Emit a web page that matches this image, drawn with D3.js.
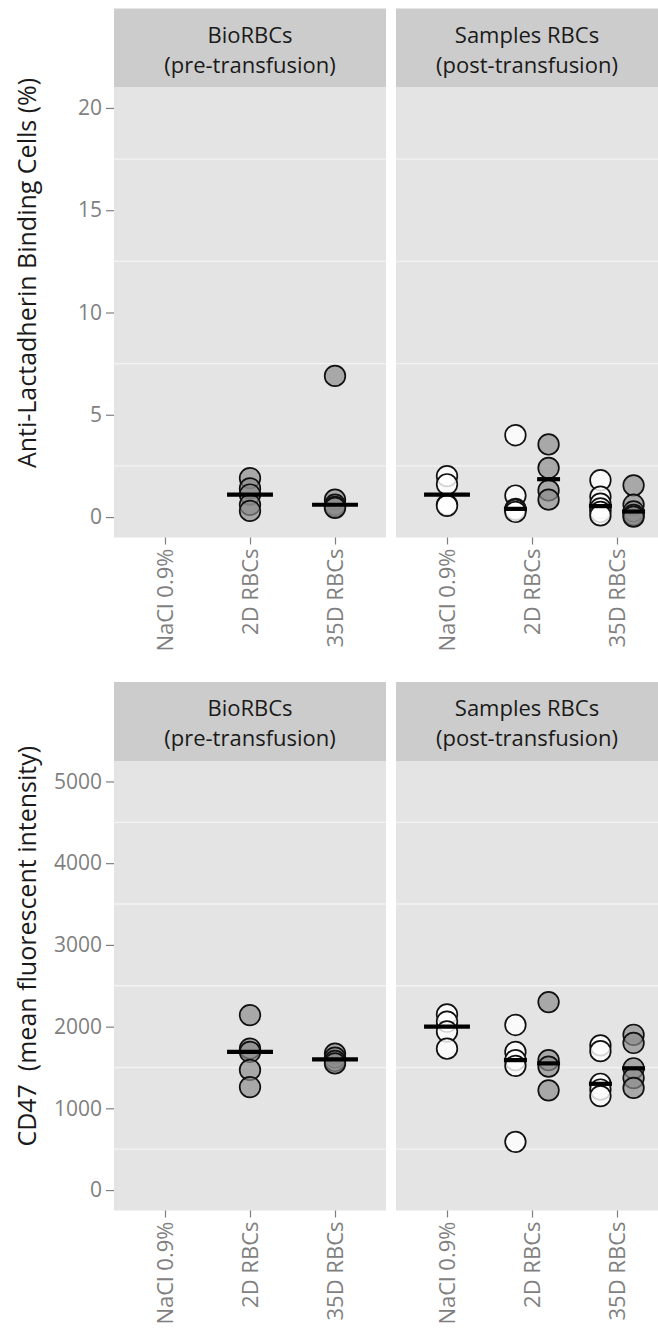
<!DOCTYPE html>
<html><head><meta charset="utf-8">
<script src="https://cdn.jsdelivr.net/npm/d3@7"></script>
<style>
body{margin:0;background:#fff;}
svg{display:block;font-family:"Open Sans",sans-serif;}
</style>
</head><body>
<svg id="chart" width="658" height="1334"></svg>
<script>
// ---------- data ----------
const categories = ["NaCl 0.9%", "2D RBCs", "35D RBCs"];
const facetTitles = [["BioRBCs", "(pre-transfusion)"], ["Samples RBCs", "(post-transfusion)"]];
const lactTicks = [0, 5, 10, 15, 20];
const cd47Ticks = [0, 1000, 2000, 3000, 4000, 5000];
const lactTitle = "Anti-Lactadherin Binding Cells (%)";
const cd47Title = "CD47  (mean fluorescent intensity)";

// Anti-Lactadherin binding cells (%)
const lactPre2D = [1.9, 1.4, 1.1, 0.6, 0.3];
const lactPre35D = [6.9, 0.85, 0.6, 0.5, 0.45];
const lactPostNaClWhite = [2.0, 1.6, 0.6, 0.55];
const lactPost2DWhite = [4.0, 1.05, 0.4, 0.35, 0.25];
const lactPost2DGrey = [3.55, 2.4, 1.3, 0.85];
const lactPost35DWhite = [1.8, 1.0, 0.65, 0.42, 0.25, 0.08];
const lactPost35DGrey = [1.55, 0.6, 0.27, 0.1, 0.02];

// CD47 MFI
const cd47Pre2D = [2140, 1730, 1690, 1470, 1260];
const cd47Pre35D = [1670, 1620, 1580, 1550];
const cd47PostNaClWhite = [2150, 2060, 1940, 1730];
const cd47Post2DWhite = [2020, 1690, 1590, 1520, 590];
const cd47Post2DGrey = [2300, 1590, 1510, 1220];
const cd47Post35DWhite = [1770, 1700, 1300, 1230, 1150];
const cd47Post35DGrey = [1900, 1800, 1490, 1370, 1250];

// series table: panel index, category, fill group, dodge slot
function seriesTable(pre2D, pre35D, postNaCl, post2DW, post2DG, post35DW, post35DG) {
  return [
    {panel: 0, cat: categories[1], grp: "grey", dodge: 0, values: pre2D},
    {panel: 0, cat: categories[2], grp: "grey", dodge: 0, values: pre35D},
    {panel: 1, cat: categories[0], grp: "white", dodge: 0, values: postNaCl},
    {panel: 1, cat: categories[1], grp: "white", dodge: -1, values: post2DW},
    {panel: 1, cat: categories[1], grp: "grey", dodge: 1, values: post2DG},
    {panel: 1, cat: categories[2], grp: "white", dodge: -1, values: post35DW},
    {panel: 1, cat: categories[2], grp: "grey", dodge: 1, values: post35DG}
  ];
}
const lactSeries = seriesTable(lactPre2D, lactPre35D, lactPostNaClWhite, lactPost2DWhite, lactPost2DGrey, lactPost35DWhite, lactPost35DGrey);
const cd47Series = seriesTable(cd47Pre2D, cd47Pre35D, cd47PostNaClWhite, cd47Post2DWhite, cd47Post2DGrey, cd47Post35DWhite, cd47Post35DGrey);

// ---------- layout ----------
const svg = d3.select("#chart");
const W = 658;
const panelX = [114, 396];
const panelW = 272;
const stripH = 79;
const fills = {white: "#ffffff", grey: "#8c8c8c"};

function drawBlock(cfg) {
  const g = svg.append("g");
  const y = d3.scaleLinear().domain(cfg.domain).range([cfg.panelBottom, cfg.panelTop]);
  const panelH = cfg.panelBottom - cfg.panelTop;

  panelX.forEach((px, i) => {
    const visW = Math.min(panelW, W - px);
    const x = d3.scalePoint().domain(categories).range([px, px + panelW]).padding(0.6);
    const step = x.step();
    // strip
    g.append("rect").attr("x", px).attr("y", cfg.stripTop).attr("width", panelW).attr("height", stripH)
      .attr("fill", "#cccccc");
    const st = g.append("text").attr("text-anchor", "middle").attr("font-size", 22).attr("fill", "#1a1a1a");
    facetTitles[i].forEach((ln, j) => {
      st.append("tspan").attr("x", px + visW / 2).attr("y", cfg.stripTop + 34 + j * 30).text(ln);
    });
    // panel background
    g.append("rect").attr("x", px).attr("y", cfg.panelTop).attr("width", panelW).attr("height", panelH)
      .attr("fill", "#e4e4e4");
    // minor grid lines (midpoints between ticks)
    const minor = d3.pairs(cfg.ticks).map(([a, b]) => (a + b) / 2);
    g.append("g").selectAll("line").data(minor).join("line")
      .attr("x1", px).attr("x2", px + panelW)
      .attr("y1", d => y(d)).attr("y2", d => y(d))
      .attr("stroke", "#f3f3f3").attr("stroke-width", 1.3);

    // x axis
    const xa = g.append("g").attr("transform", `translate(0,${cfg.panelBottom})`)
      .call(d3.axisBottom(x).tickSizeOuter(0).tickSizeInner(7));
    xa.select(".domain").remove();
    xa.selectAll(".tick line").attr("stroke", "#7f7f7f").attr("stroke-width", 1.2);
    xa.selectAll(".tick text")
      .attr("transform", "translate(0,11) rotate(-90)")
      .attr("x", 0).attr("y", 0).attr("dy", "0.35em")
      .attr("text-anchor", "end")
      .attr("font-size", 22).attr("font-family", '"Open Sans",sans-serif').attr("fill", "#7f7f7f");

    // points
    const rows = cfg.series.filter(s => s.panel === i);
    const dodgeOff = step * 0.195;
    const pts = [];
    rows.forEach(s => s.values.forEach(v => pts.push({cx: x(s.cat) + s.dodge * dodgeOff, v, grp: s.grp})));
    g.append("g").selectAll("circle").data(pts).join("circle")
      .attr("cx", d => d.cx).attr("cy", d => y(d.v)).attr("r", 10.3)
      .attr("fill", d => fills[d.grp]).attr("fill-opacity", d => d.grp === "white" ? 0.82 : 0.68)
      .attr("stroke", "#111").attr("stroke-width", 1.7);
    // median bars
    g.append("g").selectAll("line").data(rows).join("line")
      .attr("x1", s => x(s.cat) + s.dodge * dodgeOff - (s.dodge ? step * 0.135 : step * 0.27))
      .attr("x2", s => x(s.cat) + s.dodge * dodgeOff + (s.dodge ? step * 0.135 : step * 0.27))
      .attr("y1", s => y(d3.median(s.values))).attr("y2", s => y(d3.median(s.values)))
      .attr("stroke", "#000").attr("stroke-width", 4.2);
  });

  // y axis on left panel
  const ya = g.append("g").attr("transform", `translate(${panelX[0]},0)`)
    .call(d3.axisLeft(y).tickValues(cfg.ticks).tickFormat(d3.format("d"))
      .tickSizeOuter(0).tickSizeInner(8).tickPadding(4));
  ya.select(".domain").remove();
  ya.selectAll(".tick line").attr("stroke", "#7f7f7f").attr("stroke-width", 1.2);
  ya.selectAll(".tick text").attr("font-size", 21).attr("font-family", '"Open Sans",sans-serif').attr("fill", "#7f7f7f");

  // y title
  const cy = (cfg.stripTop + cfg.panelBottom) / 2;
  g.append("text").attr("transform", `translate(27,${cy}) rotate(-90)`)
    .attr("text-anchor", "middle").attr("dy", "0.35em")
    .attr("font-size", 25).attr("fill", "#1a1a1a").style("white-space", "pre")
    .text(cfg.title);
}

drawBlock({stripTop: 8.5, panelTop: 87.5, panelBottom: 537.5, domain: [-1, 21], ticks: lactTicks, series: lactSeries, title: lactTitle});
drawBlock({stripTop: 682, panelTop: 761, panelBottom: 1210.5, domain: [-250, 5250], ticks: cd47Ticks, series: cd47Series, title: cd47Title});
</script>
</body></html>
